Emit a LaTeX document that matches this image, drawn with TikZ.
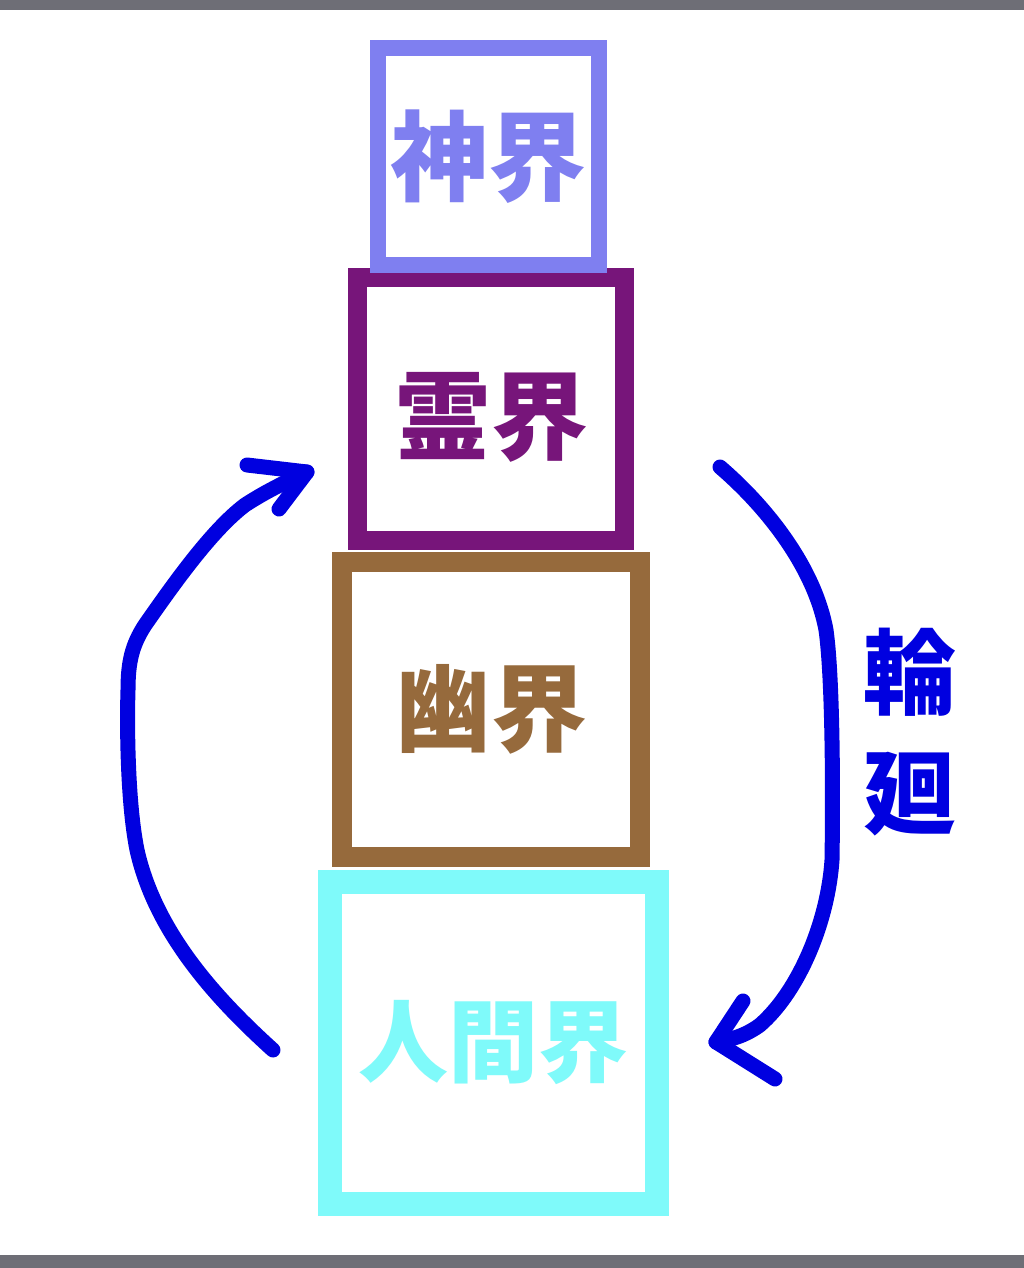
\documentclass[tikz,border=0pt]{standalone}
\usepackage{fontspec}
\newfontfamily\jpfont{Noto Sans CJK JP}
\definecolor{shinc}{HTML}{7F7FF0}
\definecolor{reic}{HTML}{77157A}
\definecolor{yuuc}{HTML}{966A3C}
\definecolor{ninc}{HTML}{7FFAFA}
\definecolor{arrc}{HTML}{0000E0}
\definecolor{barc}{HTML}{6E6E76}
\tikzset{
  realm/.style={draw=#1, text=#1, rectangle, inner sep=0pt, fill=white,
    font=\jpfont\bfseries\fontsize{98}{98}\selectfont},
  cyc/.style={draw=arrc, line width=15pt, line cap=round, line join=round},
}
\begin{document}
\begin{tikzpicture}[x=1pt,y=-1pt]
\useasboundingbox (0,0) rectangle (1024,1268);
\fill[white] (0,0) rectangle (1024,1268);
\fill[barc] (0,0) rectangle (1024,10);
\fill[barc] (0,1255) rectangle (1024,1268);
% boxes
\node[realm=ninc, line width=24pt, minimum width=327pt, minimum height=322pt,
  font=\jpfont\bfseries\fontsize{90}{90}\selectfont] (nin) at (493.5,1043) {人間界};
\node[realm=yuuc, line width=20pt, minimum width=298pt, minimum height=295pt,
  font=\jpfont\bfseries\fontsize{96}{96}\selectfont] (yuu) at (491,709.5) {幽界};
\node[realm=reic, line width=19pt, minimum width=267pt, minimum height=263pt,
  font=\jpfont\bfseries\fontsize{97}{97}\selectfont] (rei) at (491,409) {\raisebox{-8pt}[\height][\depth]{霊界}};
\node[realm=shinc, line width=16pt, minimum width=221pt, minimum height=217pt] (shin) at (488.5,156.5) {神界};
% label
\node[text=arrc, align=center, inner sep=0pt, font=\jpfont\bfseries\fontsize{93}{120}\selectfont] (rinne) at (910,732) {輪\\廻};
% arrows
\coordinate (lstart) at (273,1050);
\coordinate (ltip) at (307,472);
\coordinate (rstart) at (720,467);
\coordinate (rtip) at (716,1042);
\draw[cyc] (lstart) .. controls (220,1002) and (156,935) .. (137,850)
  .. controls (127,800) and (127,720) .. (128,690)
  .. controls (128,662) and (132,645) .. (145,625)
  .. controls (175,582) and (212,530) .. (245,505)
  .. controls (268,490) and (290,480) .. (ltip);
\draw[cyc] (247,465) -- (ltip) -- (279,509);
\draw[cyc] (rstart) .. controls (770,510) and (815,570) .. (826,630)
  .. controls (833,680) and (833,800) .. (832,860)
  .. controls (828,920) and (800,990) .. (760,1025)
  .. controls (745,1036) and (730,1040) .. (rtip);
\draw[cyc] (743,1001) -- (rtip) -- (775,1079);
\end{tikzpicture}
\end{document}
